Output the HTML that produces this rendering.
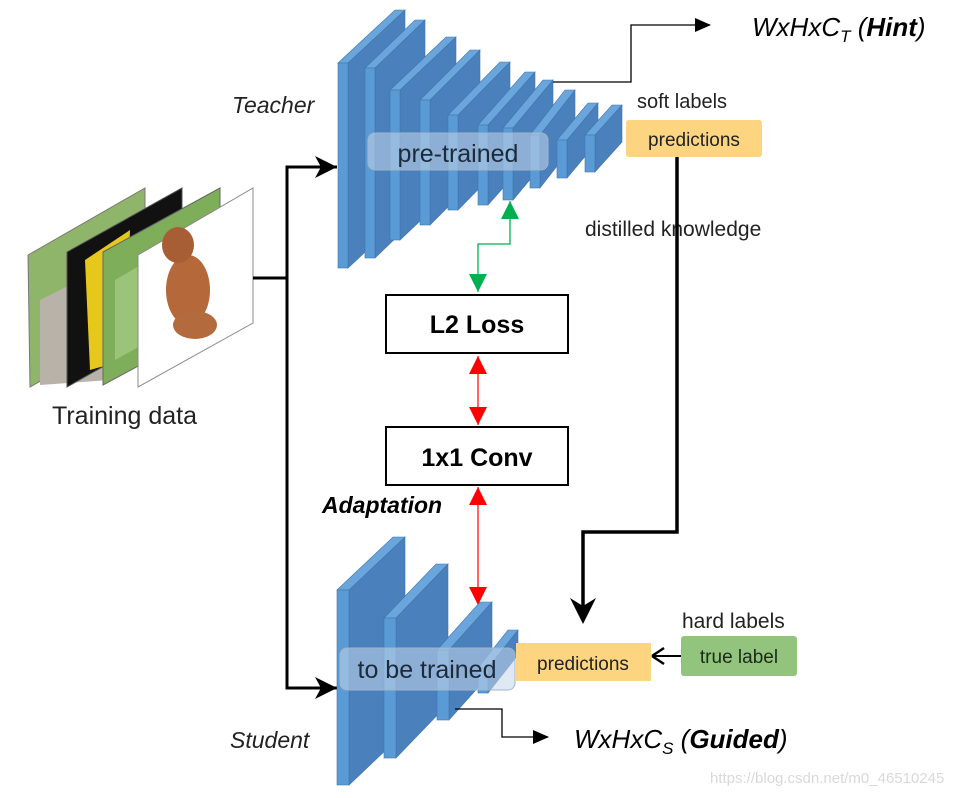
<!DOCTYPE html>
<html><head><meta charset="utf-8"><style>
html,body{margin:0;padding:0;background:#fff;}
svg{display:block;}
text{font-family:"Liberation Sans",sans-serif;}
</style></head><body>
<svg width="967" height="798" viewBox="0 0 967 798" xmlns="http://www.w3.org/2000/svg">
<defs>
<marker id="ab" markerWidth="10" markerHeight="10" refX="9" refY="5" orient="auto" markerUnits="userSpaceOnUse"><path d="M0,0 L10,5 L0,10 L3,5 z" fill="#000"/></marker>
<marker id="abig" markerWidth="20" markerHeight="20" refX="18" refY="10" orient="auto" markerUnits="userSpaceOnUse"><path d="M0,1 L18,10 L0,19 L5,10 z" fill="#000"/></marker>
<marker id="as" markerWidth="16" markerHeight="14" refX="15" refY="7" orient="auto" markerUnits="userSpaceOnUse"><path d="M0,0 L16,7 L0,14 z" fill="#000"/></marker>
<marker id="ared" markerWidth="20" markerHeight="18" refX="18" refY="9" orient="auto-start-reverse" markerUnits="userSpaceOnUse"><path d="M0,0 L18,9 L0,18 z" fill="#ff0000"/></marker>
<marker id="agr" markerWidth="20" markerHeight="18" refX="18" refY="9" orient="auto-start-reverse" markerUnits="userSpaceOnUse"><path d="M0,0 L18,9 L0,18 z" fill="#00b050"/></marker>
</defs>

<!-- training images -->
<polygon points="28,255 145,188 145,322 30,387" fill="#8fb56a" stroke="#777" stroke-width="1"/>
<polygon points="40,300 100,270 110,380 40,385" fill="#b9b2a8"/>
<polygon points="67,252 182,188 182,322 67,387" fill="#111" stroke="#555" stroke-width="1"/>
<polygon points="85,260 130,230 125,360 90,370" fill="#e6c81c"/>
<polygon points="103,252 220,188 220,322 103,385" fill="#7fae5a" stroke="#666" stroke-width="1"/>
<polygon points="115,280 200,230 205,310 115,360" fill="#9bc47a"/>
<polygon points="138,255 253,188 253,323 138,387" fill="#fff" stroke="#888" stroke-width="1"/>
<ellipse cx="188" cy="290" rx="22" ry="35" fill="#b5683a"/>
<ellipse cx="178" cy="245" rx="16" ry="18" fill="#a85e34"/>
<ellipse cx="195" cy="325" rx="22" ry="14" fill="#b36a3c"/>
<text x="52" y="424" font-size="25" fill="#222">Training data</text>

<!-- main input lines -->
<line x1="253" y1="278" x2="287" y2="278" stroke="#000" stroke-width="3"/>
<polyline points="337,167 287,167 287,688 337,688" fill="none" stroke="#000" stroke-width="3"/>
<path d="M337,167 L315,156 L321,167 L315,178 z" fill="#000"/>
<path d="M337,688 L315,677 L321,688 L315,699 z" fill="#000"/>

<text x="232" y="113" font-size="23" font-style="italic" fill="#222">Teacher</text>
<text x="230" y="748" font-size="23" font-style="italic" fill="#222">Student</text>

<!-- teacher plates -->
<g stroke="#3f75ad" stroke-width="0.6">
<polygon points="348,63 405,10 405,215 348,268" fill="#4a80bc"/><polygon points="338,63 348,63 405,10 395,10" fill="#6aa6dc"/><rect x="338" y="63" width="10" height="205" fill="#5b9bd5"/>
<polygon points="375,68 425,20 425,210 375,258" fill="#4a80bc"/><polygon points="365,68 375,68 425,20 415,20" fill="#6aa6dc"/><rect x="365" y="68" width="10" height="190" fill="#5b9bd5"/>
<polygon points="400,90 456,37 456,187 400,240" fill="#4a80bc"/><polygon points="390,90 400,90 456,37 446,37" fill="#6aa6dc"/><rect x="390" y="90" width="10" height="150" fill="#5b9bd5"/>
<polygon points="430,100 480,50 480,175 430,225" fill="#4a80bc"/><polygon points="420,100 430,100 480,50 470,50" fill="#6aa6dc"/><rect x="420" y="100" width="10" height="125" fill="#5b9bd5"/>
<polygon points="458,115 510,62 510,157 458,210" fill="#4a80bc"/><polygon points="448,115 458,115 510,62 500,62" fill="#6aa6dc"/><rect x="448" y="115" width="10" height="95" fill="#5b9bd5"/>
<polygon points="488,125 535,72 535,152 488,205" fill="#4a80bc"/><polygon points="478,125 488,125 535,72 525,72" fill="#6aa6dc"/><rect x="478" y="125" width="10" height="80" fill="#5b9bd5"/>
<polygon points="513,128 553,80 553,152 513,200" fill="#4a80bc"/><polygon points="503,128 513,128 553,80 543,80" fill="#6aa6dc"/><rect x="503" y="128" width="10" height="72" fill="#5b9bd5"/>
<polygon points="540,135 575,90 575,143 540,188" fill="#4a80bc"/><polygon points="530,135 540,135 575,90 565,90" fill="#6aa6dc"/><rect x="530" y="135" width="10" height="53" fill="#5b9bd5"/>
<polygon points="567,140 598,103 598,141 567,178" fill="#4a80bc"/><polygon points="557,140 567,140 598,103 588,103" fill="#6aa6dc"/><rect x="557" y="140" width="10" height="38" fill="#5b9bd5"/>
<polygon points="595,135 622,105 622,142 595,172" fill="#4a80bc"/><polygon points="585,135 595,135 622,105 612,105" fill="#6aa6dc"/><rect x="585" y="135" width="10" height="37" fill="#5b9bd5"/>
</g>
<rect x="368" y="133" width="180" height="37" rx="7" fill="#c6d6ea" fill-opacity="0.55" stroke="#9fb5cf" stroke-width="1"/>
<text x="458" y="162" font-size="25" fill="#1d2a3a" text-anchor="middle">pre-trained</text>

<!-- hint line -->
<polyline points="553,82 631,82 631,25 710,25" fill="none" stroke="#000" stroke-width="1.3" marker-end="url(#as)"/>
<text x="752" y="36" font-size="26" font-style="italic" fill="#000">WxHxC<tspan font-size="17" dy="6">T</tspan><tspan dy="-6"> (</tspan><tspan font-weight="bold">Hint</tspan>)</text>

<!-- teacher predictions -->
<text x="637" y="108" font-size="20" fill="#222">soft labels</text>
<rect x="626" y="120" width="136" height="37" rx="3" fill="#fdd47f"/>
<text x="694" y="146" font-size="19" fill="#222" text-anchor="middle">predictions</text>
<text x="585" y="236" font-size="21" fill="#222">distilled knowledge</text>
<polyline points="677,157 677,532 583,532 583,620" fill="none" stroke="#000" stroke-width="3.5"/>
<path d="M583,624 L570,598 L583,606 L596,598 z" fill="#000"/>

<!-- green -->
<polyline points="478,292 478,244 510,244 510,201" fill="none" stroke="#00b050" stroke-width="1.3" marker-start="url(#agr)" marker-end="url(#agr)"/>

<!-- boxes -->
<rect x="386" y="295" width="182" height="58" fill="#fff" stroke="#000" stroke-width="2"/>
<text x="477" y="333" font-size="25" font-weight="bold" fill="#000" text-anchor="middle">L2 Loss</text>
<rect x="386" y="427" width="182" height="58" fill="#fff" stroke="#000" stroke-width="2"/>
<text x="477" y="466" font-size="25" font-weight="bold" fill="#000" text-anchor="middle">1x1 Conv</text>
<line x1="478" y1="356" x2="478" y2="425" stroke="#ff0000" stroke-width="1.2" marker-start="url(#ared)" marker-end="url(#ared)"/>
<line x1="478" y1="487" x2="478" y2="605" stroke="#ff0000" stroke-width="1.2" marker-start="url(#ared)" marker-end="url(#ared)"/>
<text x="322" y="513" font-size="23" font-weight="bold" font-style="italic" fill="#000">Adaptation</text>

<!-- student plates -->
<g stroke="#3f75ad" stroke-width="0.6">
<polygon points="349,590 405,537 405,732 349,785" fill="#4a80bc"/><polygon points="337,590 349,590 405,537 393,537" fill="#6aa6dc"/><rect x="337" y="590" width="12" height="195" fill="#5b9bd5"/>
<polygon points="396,618 448,564 448,704 396,758" fill="#4a80bc"/><polygon points="384,618 396,618 448,564 436,564" fill="#6aa6dc"/><rect x="384" y="618" width="12" height="140" fill="#5b9bd5"/>
<polygon points="449,650 492,602 492,672 449,720" fill="#4a80bc"/><polygon points="437,650 449,650 492,602 480,602" fill="#6aa6dc"/><rect x="437" y="650" width="12" height="70" fill="#5b9bd5"/>
<polygon points="488,668 518,630 518,655 488,693" fill="#4a80bc"/><polygon points="478,668 488,668 518,630 508,630" fill="#6aa6dc"/><rect x="478" y="668" width="10" height="25" fill="#5b9bd5"/>
</g>
<rect x="340" y="648" width="175" height="42" rx="7" fill="#c6d6ea" fill-opacity="0.55" stroke="#9fb5cf" stroke-width="1"/>
<text x="427" y="678" font-size="25" fill="#1d2a3a" text-anchor="middle">to be trained</text>

<polyline points="455,709 502,709 502,737 548,737" fill="none" stroke="#000" stroke-width="1.3" marker-end="url(#as)"/>
<text x="574" y="748" font-size="26" font-style="italic" fill="#000">WxHxC<tspan font-size="17" dy="6">S</tspan><tspan dy="-6"> (</tspan><tspan font-weight="bold">Guided</tspan>)</text>

<rect x="516" y="643" width="135" height="38" fill="#fdd47f"/>
<text x="583" y="670" font-size="19" fill="#222" text-anchor="middle">predictions</text>
<text x="682" y="628" font-size="21" fill="#222">hard labels</text>
<rect x="681" y="636" width="116" height="40" rx="3" fill="#93c47d"/>
<text x="739" y="663" font-size="19" fill="#1a2a14" text-anchor="middle">true label</text>
<line x1="681" y1="656" x2="654" y2="656" stroke="#000" stroke-width="2"/>
<path d="M652,656 L664,648 M652,656 L664,664" stroke="#000" stroke-width="2.5" fill="none"/>

<text x="710" y="783" font-size="15" fill="#d9d9d9">https://blog.csdn.net/m0_46510245</text>
</svg>
</body></html>
